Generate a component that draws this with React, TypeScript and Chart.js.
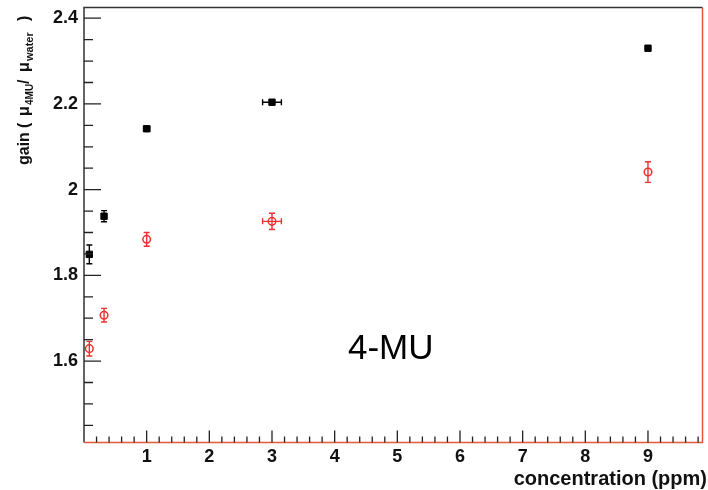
import React, { useEffect, useRef } from 'react';
import { Chart, registerables } from 'chart.js';

Chart.register(...registerables);

// ---- data ----
const concBlack = [0.085, 0.32, 1, 3, 9];
const gainBlack = [1.849, 1.938, 2.142, 2.204, 2.33];
const errYBlack = [0.022, 0.013, 0.004, 0.004, 0.004];
const errXBlack = [0, 0, 0.05, 0.15, 0];

const concRed = [0.085, 0.32, 1, 3, 9];
const gainRed = [1.629, 1.707, 1.884, 1.926, 2.041];
const errYRed = [0.017, 0.016, 0.016, 0.019, 0.024];
const errXRed = [0, 0, 0, 0.15, 0];

const xMajorLabels = [1, 2, 3, 4, 5, 6, 7, 8, 9];
const yMajorLabels = [1.6, 1.8, 2.0, 2.2, 2.4];

const xTitle = 'concentration (ppm)';
const annotation = '4-MU';

const RED = '#ee3030';
const FRAME_RED = '#e4573a';
const FONT = "'Liberation Sans', Arial, Helvetica, sans-serif";

const isMajor = (v: number, list: number[]) => list.some((m) => Math.abs(m - v) < 1e-6);

const series = [
  { x: concBlack, y: gainBlack, ex: errXBlack, ey: errYBlack, color: '#000000' },
  { x: concRed, y: gainRed, ex: errXRed, ey: errYRed, color: RED },
];

const decorPlugin = {
  id: 'decor',
  afterDatasetsDraw(chart: any) {
    const ctx = chart.ctx as CanvasRenderingContext2D;
    const xs = chart.scales.x;
    const ys = chart.scales.y;
    const { left, right, top, bottom } = chart.chartArea;

    // error bars
    ctx.save();
    ctx.lineWidth = 1.4;
    const cap = 3;
    series.forEach((s) => {
      ctx.strokeStyle = s.color;
      s.x.forEach((xv, i) => {
        const px = xs.getPixelForValue(xv);
        const py = ys.getPixelForValue(s.y[i]);
        if (s.ey[i] > 0) {
          const y1 = ys.getPixelForValue(s.y[i] + s.ey[i]);
          const y2 = ys.getPixelForValue(s.y[i] - s.ey[i]);
          ctx.beginPath();
          ctx.moveTo(px, y1); ctx.lineTo(px, y2);
          ctx.moveTo(px - cap, y1); ctx.lineTo(px + cap, y1);
          ctx.moveTo(px - cap, y2); ctx.lineTo(px + cap, y2);
          ctx.stroke();
        }
        if (s.ex[i] > 0) {
          const x1 = xs.getPixelForValue(xv - s.ex[i]);
          const x2 = xs.getPixelForValue(xv + s.ex[i]);
          ctx.beginPath();
          ctx.moveTo(x1, py); ctx.lineTo(x2, py);
          ctx.moveTo(x1, py - cap); ctx.lineTo(x1, py + cap);
          ctx.moveTo(x2, py - cap); ctx.lineTo(x2, py + cap);
          ctx.stroke();
        }
      });
    });
    ctx.restore();

    // frame
    ctx.save();
    ctx.lineWidth = 1.5;
    ctx.strokeStyle = '#333333';
    ctx.beginPath();
    ctx.moveTo(left, bottom); ctx.lineTo(left, top); ctx.lineTo(right, top);
    ctx.stroke();
    ctx.strokeStyle = FRAME_RED;
    ctx.beginPath();
    ctx.moveTo(right, top); ctx.lineTo(right, bottom); ctx.lineTo(left, bottom);
    ctx.stroke();

    // tick marks (inward)
    ctx.strokeStyle = '#222222';
    ctx.lineWidth = 1.3;
    ctx.beginPath();
    ys.ticks.forEach((t: any) => {
      const py = ys.getPixelForValue(t.value);
      const len = isMajor(t.value, yMajorLabels) ? 17 : 9;
      ctx.moveTo(left, py); ctx.lineTo(left + len, py);
    });
    xs.ticks.forEach((t: any) => {
      const px = xs.getPixelForValue(t.value);
      if (px <= left + 0.5) return;
      const len = isMajor(t.value, xMajorLabels) ? 12 : 6;
      ctx.moveTo(px, bottom); ctx.lineTo(px, bottom - len);
    });
    ctx.stroke();

    // x title
    ctx.fillStyle = '#111111';
    ctx.font = `bold 20px ${FONT}`;
    ctx.textAlign = 'right';
    ctx.textBaseline = 'alphabetic';
    ctx.fillText(xTitle, 707, 485);

    // annotation
    ctx.font = `35px ${FONT}`;
    ctx.textAlign = 'left';
    ctx.fillStyle = '#000000';
    ctx.fillText(annotation, 348, 359);

    // y title (rotated, with subscripts)
    ctx.translate(29, 165);
    ctx.rotate(-Math.PI / 2);
    ctx.fillStyle = '#111111';
    ctx.textAlign = 'left';
    const pieces = [
      { t: 'gain', at: 0, size: 16, sub: false },
      { t: '(', at: 37, size: 16, sub: false },
      { t: 'μ', at: 49, size: 16, sub: false },
      { t: '4MU', at: 60, size: 10, sub: true },
      { t: '/', at: 81, size: 16, sub: false },
      { t: 'μ', at: 93, size: 16, sub: false },
      { t: 'water', at: 104, size: 11, sub: true },
      { t: ')', at: 144, size: 16, sub: false },
    ];
    pieces.forEach((p) => {
      ctx.font = `bold ${p.size}px ${FONT}`;
      ctx.fillText(p.t, p.at, p.sub ? 4 : 0);
    });
    ctx.restore();
  },
};

export default function App() {
  const ref = useRef<HTMLCanvasElement | null>(null);

  useEffect(() => {
    if (!ref.current) return;
    const tickFont = { family: FONT, size: 18, weight: 'bold' as const };
    const chart = new Chart(ref.current, {
      type: 'scatter',
      data: {
        datasets: [
          {
            data: concBlack.map((x, i) => ({ x, y: gainBlack[i] })),
            pointStyle: 'rect',
            pointRadius: 4.5,
            backgroundColor: '#000000',
            borderColor: '#000000',
            borderWidth: 1,
            showLine: false,
          },
          {
            data: concRed.map((x, i) => ({ x, y: gainRed[i] })),
            pointStyle: 'circle',
            pointRadius: 3.8,
            backgroundColor: 'rgba(0,0,0,0)',
            borderColor: RED,
            borderWidth: 1.5,
            showLine: false,
          },
        ],
      },
      options: {
        animation: false,
        responsive: false,
        maintainAspectRatio: false,
        layout: { padding: { top: 7.5, right: 1, left: 0, bottom: 0 } },
        plugins: { legend: { display: false }, tooltip: { enabled: false } },
        scales: {
          x: {
            type: 'linear',
            min: 0,
            max: 9.87,
            border: { display: false },
            grid: { display: false, drawTicks: false },
            ticks: {
              stepSize: 0.2,
              autoSkip: false,
              maxRotation: 0,
              includeBounds: false,
              padding: 4,
              color: '#111111',
              font: tickFont,
              callback: (v: any) => (isMajor(Number(v), xMajorLabels) ? String(Math.round(Number(v))) : ''),
            },
            afterFit: (s: any) => {
              s.height = 47.5;
              s.paddingLeft = 0;
              s.paddingRight = 0;
            },
          },
          y: {
            type: 'linear',
            min: 1.41,
            max: 2.425,
            border: { display: false },
            grid: { display: false, drawTicks: false },
            ticks: {
              stepSize: 0.05,
              autoSkip: false,
              includeBounds: false,
              padding: 6,
              color: '#111111',
              font: tickFont,
              callback: (v: any) => (isMajor(Number(v), yMajorLabels) ? String(+Number(v).toFixed(1)) : ''),
            },
            afterFit: (s: any) => {
              s.width = 84;
              s.paddingTop = 0;
              s.paddingBottom = 0;
            },
          },
        },
      },
      plugins: [decorPlugin],
    });
    return () => chart.destroy();
  }, []);

  return (
    <div style={{ position: 'absolute', left: 0, top: 0, width: 708, height: 490, background: '#ffffff' }}>
      <canvas ref={ref} width={708} height={490} style={{ display: 'block' }} />
    </div>
  );
}
